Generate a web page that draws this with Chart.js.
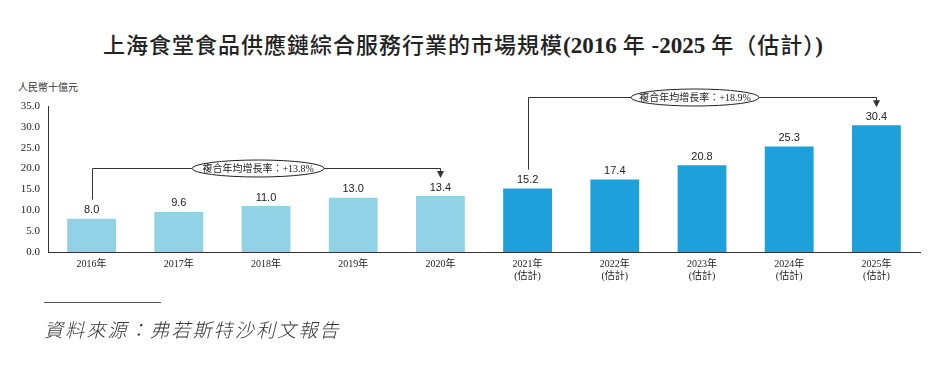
<!DOCTYPE html>
<html>
<head>
<meta charset="utf-8">
<script src="https://cdn.jsdelivr.net/npm/chart.js@4.4.1/dist/chart.umd.min.js"></script>
<style>
  html, body { margin: 0; padding: 0; background: #fff; }
  #wrap { position: relative; width: 935px; height: 370px; overflow: hidden; }
  #title { position: absolute; left: 103px; top: 27px; text-align: left;
    font-family: "Noto Sans CJK TC", sans-serif; font-size: 22px; font-weight: 500; color: #222; letter-spacing: 1px; white-space: nowrap; }
  #title .num { font-family: "Liberation Serif", serif; font-weight: 700; letter-spacing: 0; font-size: 23px; }
  #unit { position: absolute; left: 18px; top: 79px; font-family: "Noto Sans CJK TC", sans-serif; font-size: 10px; color: #333; }
  #rule { position: absolute; left: 44px; top: 302px; width: 117px; height: 0; border-top: 1px solid #555; }
  #source { position: absolute; left: 44px; top: 315px; font-family: "Noto Sans CJK TC", sans-serif; font-size: 19px; font-weight: 300; font-style: italic; color: #333; letter-spacing: 2.2px; white-space: nowrap; }
  canvas { position: absolute; left: 0; top: 0; }
</style>
</head>
<body>
<div id="wrap">
  <div id="title">上海食堂食品供應鏈綜合服務行業的市場規模<span class="num">(2016</span> 年 <span class="num">-2025</span> 年（估計）<span class="num">)</span></div>
  <div id="unit">人民幣十億元</div>
  <canvas id="c" width="935" height="370"></canvas>
  <div id="rule"></div>
  <div id="source">資料來源：弗若斯特沙利文報告</div>
</div>
<script>
const categories = [["2016年"],["2017年"],["2018年"],["2019年"],["2020年"],
  ["2021年","(估計)"],["2022年","(估計)"],["2023年","(估計)"],["2024年","(估計)"],["2025年","(估計)"]];
const marketSize = [8.0, 9.6, 11.0, 13.0, 13.4, 15.2, 17.4, 20.8, 25.3, 30.4];
const isEstimate = [false,false,false,false,false,true,true,true,true,true];
const yTicks = [0, 5, 10, 15, 20, 25, 30, 35];
const cagrLabels = ["複合年均增長率：+13.8%", "複合年均增長率：+18.9%"];
const cagrFrom = [0, 5];
const cagrTo = [4, 9];

const lightBlue = "#92d2e6";
const darkBlue = "#1ea1da";

const overlay = {
  id: "overlay",
  afterDatasetsDraw(chart) {
    const ctx = chart.ctx;
    const x = chart.scales.x, y = chart.scales.y;
    const meta = chart.getDatasetMeta(0);
    ctx.save();
    // value labels
    ctx.font = "11px 'Liberation Sans', Arial, sans-serif";
    ctx.fillStyle = "#222";
    ctx.textAlign = "center";
    ctx.textBaseline = "bottom";
    meta.data.forEach((bar, i) => {
      ctx.fillText(marketSize[i].toFixed(1), bar.x, bar.y - 3);
    });
    // CAGR brackets
    const levels = [y.getPixelForValue(20.2), y.getPixelForValue(37.2)];
    const centers = [1.91, 6.92];
    const ellW = [132, 128], ellH = 17;
    ctx.lineWidth = 1;
    for (let k = 0; k < 2; k++) {
      const b0 = meta.data[cagrFrom[k]], b1 = meta.data[cagrTo[k]];
      const lev = Math.round(levels[k]) + 0.5;
      const x0 = Math.round(b0.x) + 0.5, x1 = Math.round(b1.x) + 0.5;
      const yStart = b0.y - 19;
      const yEnd = b1.y - 18;
      ctx.strokeStyle = "#333";
      ctx.fillStyle = "#333";
      ctx.beginPath();
      ctx.moveTo(x0, yStart);
      ctx.lineTo(x0, lev);
      ctx.lineTo(x1, lev);
      ctx.lineTo(x1, yEnd - 6);
      ctx.stroke();
      ctx.beginPath();
      ctx.moveTo(x1 - 3.5, yEnd - 7);
      ctx.lineTo(x1 + 3.5, yEnd - 7);
      ctx.lineTo(x1, yEnd);
      ctx.closePath();
      ctx.fill();
      // ellipse
      const cx = x.getPixelForValue(centers[k]);
      ctx.beginPath();
      ctx.ellipse(cx, lev, ellW[k] / 2, ellH / 2, 0, 0, Math.PI * 2);
      ctx.fillStyle = "#fff";
      ctx.fill();
      ctx.strokeStyle = "#222";
      ctx.stroke();
      ctx.fillStyle = "#222";
      ctx.font = "10px 'Liberation Serif', 'Noto Sans CJK TC', serif";
      ctx.textBaseline = "middle";
      ctx.fillText(cagrLabels[k], cx, lev + 1);
    }
    ctx.restore();
  }
};

new Chart(document.getElementById("c"), {
  type: "bar",
  data: {
    labels: categories,
    datasets: [{
      data: marketSize,
      backgroundColor: isEstimate.map(e => e ? darkBlue : lightBlue),
      borderWidth: 0,
      categoryPercentage: 1.0,
      barPercentage: 0.56
    }]
  },
  options: {
    responsive: false,
    animation: false,
    layout: { padding: { left: 0, right: 15, top: 106, bottom: 86 } },
    plugins: { legend: { display: false }, tooltip: { enabled: false }, title: { display: false } },
    scales: {
      x: {
        grid: { display: false, drawTicks: false },
        border: { display: true, color: "#333", width: 1 },
        ticks: {
          color: "#222", padding: 6, maxRotation: 0, autoSkip: false,
          font: { family: "'Liberation Serif', 'Noto Sans CJK TC', serif", size: 10, lineHeight: 1.25 }
        },
        afterFit(s) { s.height = 32; }
      },
      y: {
        min: 0, max: 35,
        afterBuildTicks(s) { s.ticks = yTicks.map(v => ({ value: v })); },
        grid: { display: false, drawOnChartArea: false, drawTicks: true, tickLength: 4, tickColor: "#333" },
        border: { display: true, color: "#333", width: 1 },
        ticks: {
          color: "#222", padding: 4,
          font: { family: "'Liberation Serif', serif", size: 11 },
          callback: v => Number(v).toFixed(1)
        },
        afterFit(s) { s.width = 48; }
      }
    }
  },
  plugins: [overlay]
});
</script>
</body>
</html>
